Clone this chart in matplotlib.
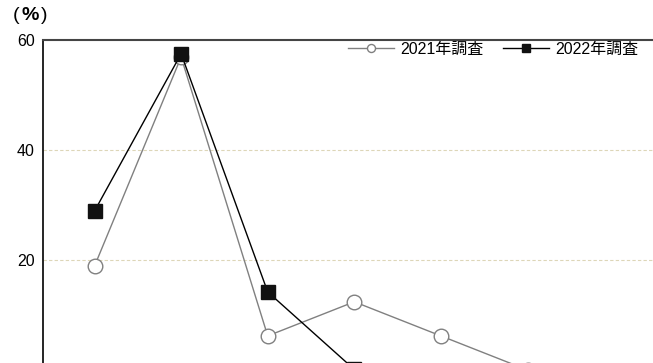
import matplotlib
matplotlib.use("Agg")
import matplotlib.pyplot as plt

plt.rcParams["font.family"] = ["Liberation Sans", "Noto Sans CJK JP", "DejaVu Sans"]

# values (lower part of the chart is cut off in the reference)
x_pos = [0, 1, 2, 3, 4, 5]
survey_2021 = [18.9, 56.9, 6.2, 12.4, 6.2, 0.0]
survey_2022 = [28.9, 57.5, 14.2, 0.1]
label_2021 = "2021年調査"
label_2022 = "2022年調査"
y_ticks = [20, 40, 60]

W, H = 653, 363
fig = plt.figure(figsize=(W / 100, H / 100), dpi=100)
# axes: left spine at x=43px, top at y=40px, y=0 at y=370px (below the image edge)
left, top, bottom = 43, 40, 370
ax = fig.add_axes([left / W, (H - bottom) / H, 1.02 - left / W, (bottom - top) / H])

ax.plot(x_pos, survey_2021, color="#808080", lw=1.0, marker="o", ms=10.5,
        mfc="white", mec="#808080", mew=1.0, label=label_2021, zorder=3)
ax.plot(x_pos[:len(survey_2022)], survey_2022, color="black", lw=1.0, marker="s",
        ms=10.5, mfc="#111111", mec="#111111", label=label_2022, zorder=4)

ax.set_ylim(0, 60)
ax.set_xlim(-0.595, 6.6)
ax.set_yticks(y_ticks)
ax.set_yticklabels([str(v) for v in y_ticks], fontsize=11.5)
ax.tick_params(axis="y", length=0, pad=6)
ax.set_xticks([])

for v in y_ticks[:-1]:
    ax.axhline(v, color="#ddd6b8", lw=0.8, ls=(0, (3, 2)), zorder=1)

ax.spines["left"].set_color("black")
ax.spines["left"].set_linewidth(1.2)
ax.spines["top"].set_color("#444444")
ax.spines["top"].set_linewidth(1.5)
ax.spines["right"].set_visible(False)
ax.spines["bottom"].set_visible(False)

# unit label "（%）"
for xp, ch in [(16, "("), (30, "%"), (44, ")")]:
    fig.text(xp / W, 1 - 15 / H, ch, fontsize=14, ha="center", va="center",
             fontweight="bold" if ch == "%" else "normal")

fig.legend(loc="center right", bbox_to_anchor=(638 / W, 1 - 49 / H),
           ncol=2, frameon=False, fontsize=11.5, handlelength=2.9,
           handletextpad=0.375, columnspacing=1.2, markerscale=0.55,
           borderpad=0, borderaxespad=0)

fig.savefig("out.png", dpi=100)
